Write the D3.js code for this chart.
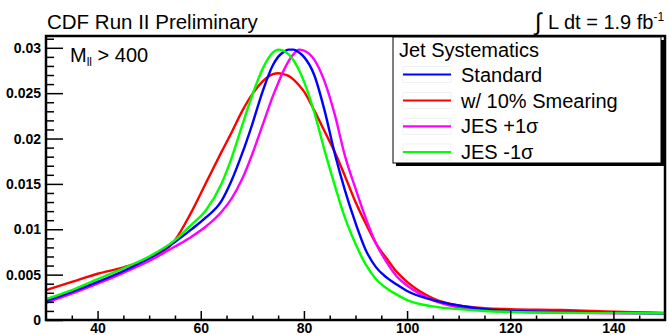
<!DOCTYPE html>
<html>
<head>
<meta charset="utf-8">
<script src="https://cdn.jsdelivr.net/npm/d3@7"></script>
<style>
  body { margin: 0; background: #fff; }
  text { font-family: "Liberation Sans", Arial, Helvetica, sans-serif; }
</style>
</head>
<body>
<div id="chart"></div>
<script>
// dijet mass bins (GeV) and normalised shapes
var massBins = [30, 35, 40, 45, 50, 55, 58, 61, 64, 66, 68, 70, 72, 74, 75, 76, 77, 78, 79, 80,
                82, 84, 86, 88, 90, 92, 94, 96, 98, 100, 105, 110, 115, 120, 130, 140, 150];

var standard = [0.0021, 0.0031, 0.0042, 0.0054, 0.0068, 0.0086, 0.0099, 0.0113, 0.0131, 0.0154, 0.0183, 0.0216,
                0.0252, 0.0281, 0.0290, 0.0295, 0.0298, 0.0298, 0.0295, 0.0290,
                0.0270, 0.0231, 0.0183, 0.0142, 0.0107, 0.0077, 0.0058, 0.0047, 0.0039, 0.0032,
                0.0022, 0.0016, 0.0012, 0.0010, 0.0009, 0.0008, 0.00075];

var smearing = [0.0033, 0.0042, 0.0051, 0.0058, 0.0068, 0.0088, 0.0117, 0.0151, 0.0185, 0.0207, 0.0230, 0.0249,
                0.0263, 0.0271, 0.0272, 0.0271, 0.0269, 0.0265, 0.0259, 0.0252,
                0.0231, 0.0208, 0.0185, 0.0158, 0.0130, 0.0106, 0.0084, 0.0068, 0.0053, 0.0042,
                0.0024, 0.0016, 0.0013, 0.0012, 0.0011, 0.00092, 0.00078];

var jesUp = [0.0019, 0.0029, 0.0040, 0.0052, 0.0065, 0.0081, 0.0091, 0.0103, 0.0119, 0.0134, 0.0155, 0.0183,
             0.0215, 0.0247, 0.0261, 0.0274, 0.0285, 0.0293, 0.0298, 0.0297,
             0.0287, 0.0263, 0.0226, 0.0180, 0.0145, 0.0112, 0.0084, 0.0064, 0.0048, 0.0038,
             0.0022, 0.0014, 0.0011, 0.0009, 0.0008, 0.00075, 0.0007];

var jesDown = [0.0023, 0.0033, 0.0045, 0.0057, 0.0070, 0.0088, 0.0104, 0.0121, 0.0150, 0.0179, 0.0214, 0.0248,
               0.0277, 0.0295, 0.0298, 0.0297, 0.0293, 0.0286, 0.0276, 0.0263,
               0.0229, 0.0187, 0.0148, 0.0112, 0.0084, 0.0061, 0.0045, 0.0035, 0.0028, 0.0022,
               0.0015, 0.0012, 0.0010, 0.0009, 0.0008, 0.00078, 0.00075];

var seriesNames = ["Standard", "w/ 10% Smearing", "JES +1\u03c3", "JES -1\u03c3"];
var seriesColors = ["#0000ff", "#ff0000", "#ff00ff", "#00ff00"];
var seriesValues = [standard, smearing, jesUp, jesDown];
// draw order: red underneath, then the others
var drawOrder = [1, 2, 0, 3];

var xMajorTicks = [40, 60, 80, 100, 120, 140];
var yMajorTicks = [0, 0.005, 0.01, 0.015, 0.02, 0.025, 0.03];

// set the dimensions and margins of the graph
var W = 669, H = 335;
var margin = { top: 36, right: 4, bottom: 15, left: 46 },
    width = W - margin.left - margin.right,
    height = H - margin.top - margin.bottom;

var svg = d3.select("#chart")
    .append("svg")
    .attr("width", W)
    .attr("height", H);

var g = svg.append("g")
    .attr("transform", "translate(" + margin.left + "," + margin.top + ")");

var x = d3.scaleLinear().domain([30, 150]).range([0, width]);
var y = d3.scaleLinear().domain([0, 0.0313]).range([height, 0]);

// minor ticks
var xMinor = d3.range(35, 150, 5).filter(function (d) { return xMajorTicks.indexOf(d) < 0; });
var yMinor = d3.range(0, 32).map(function (i) { return i / 1000; })
    .filter(function (d) { return Math.round(d * 1000) % 5 !== 0; });

// the curves
var line = d3.line()
    .x(function (d) { return x(d[0]); })
    .y(function (d) { return y(d[1]); })
    .curve(d3.curveMonotoneX);

var plot = g.append("g");
drawOrder.forEach(function (i) {
    plot.append("path")
        .datum(massBins.map(function (m, k) { return [m, seriesValues[i][k]]; }))
        .attr("fill", "none")
        .attr("stroke", seriesColors[i])
        .attr("stroke-width", 2.4)
        .attr("stroke-linejoin", "round")
        .attr("d", line);
});

// Y axis
g.append("g")
    .call(d3.axisLeft(y).tickValues(yMajorTicks).tickSize(-17).tickPadding(5)
        .tickFormat(function (d) { return d === 0 ? "0" : String(+d.toFixed(3)); }));
g.append("g")
    .call(d3.axisLeft(y).tickValues(yMinor).tickSize(-8).tickFormat(""));

// X axis
g.append("g")
    .attr("transform", "translate(0," + height + ")")
    .call(d3.axisBottom(x).tickValues(xMajorTicks).tickSize(-9).tickPadding(3));
g.append("g")
    .attr("transform", "translate(0," + height + ")")
    .call(d3.axisBottom(x).tickValues(xMinor).tickSize(-4.5).tickFormat(""));

g.selectAll(".domain").remove();
g.selectAll(".tick line").attr("stroke", "#000").attr("stroke-width", 1.5);
g.selectAll(".tick text")
    .attr("fill", "#000")
    .style("font-size", "14px")
    .style("font-weight", "bold")
    .style("font-family", "'Liberation Sans', Arial, Helvetica, sans-serif");

// frame
g.append("rect")
    .attr("x", 0).attr("y", 0)
    .attr("width", width).attr("height", height)
    .attr("fill", "none")
    .attr("stroke", "#000")
    .attr("stroke-width", 2.5);

// title and luminosity
svg.append("text")
    .attr("x", 47).attr("y", 29)
    .style("font-size", "20.5px")
    .text("CDF Run II Preliminary");

var lumi = svg.append("text")
    .attr("x", 535).attr("y", 28.5)
    .style("font-size", "20px");
lumi.append("tspan").style("font-size", "24px").attr("dy", 1).text("\u222b");
lumi.append("tspan").attr("x", 548).attr("dy", -1).text("L dt = 1.9 fb");
lumi.append("tspan").style("font-size", "12px").attr("dy", -8).text("-1");

// M_ll label
var mll = svg.append("text")
    .attr("x", 70).attr("y", 62)
    .style("font-size", "20px");
mll.append("tspan").text("M");
mll.append("tspan").style("font-size", "12px").attr("dy", 4).text("ll");
mll.append("tspan").attr("dy", -4).text(" > 400");

// legend
var lg = svg.append("g");
lg.append("rect")
    .attr("x", 396).attr("y", 40)
    .attr("width", 268).attr("height", 126)
    .attr("fill", "#000");
lg.append("rect")
    .attr("x", 393).attr("y", 37)
    .attr("width", 268).attr("height", 126)
    .attr("fill", "#fff")
    .attr("stroke", "#000")
    .attr("stroke-width", 1);
lg.append("text")
    .attr("x", 399).attr("y", 57)
    .style("font-size", "20px")
    .text("Jet Systematics");

var entryY = [74.5, 100.5, 126.3, 152];
seriesNames.forEach(function (name, i) {
    lg.append("rect")
        .attr("x", 403).attr("y", entryY[i] - 8)
        .attr("width", 48).attr("height", 16)
        .attr("fill", "none")
        .attr("stroke", "#eeeeee")
        .attr("stroke-width", 0.8);
    lg.append("line")
        .attr("x1", 403).attr("x2", 451)
        .attr("y1", entryY[i]).attr("y2", entryY[i])
        .attr("stroke", seriesColors[i])
        .attr("stroke-width", 2.2);
    lg.append("text")
        .attr("x", 461).attr("y", entryY[i] + 7)
        .style("font-size", "20px")
        .text(name);
});
</script>
</body>
</html>
